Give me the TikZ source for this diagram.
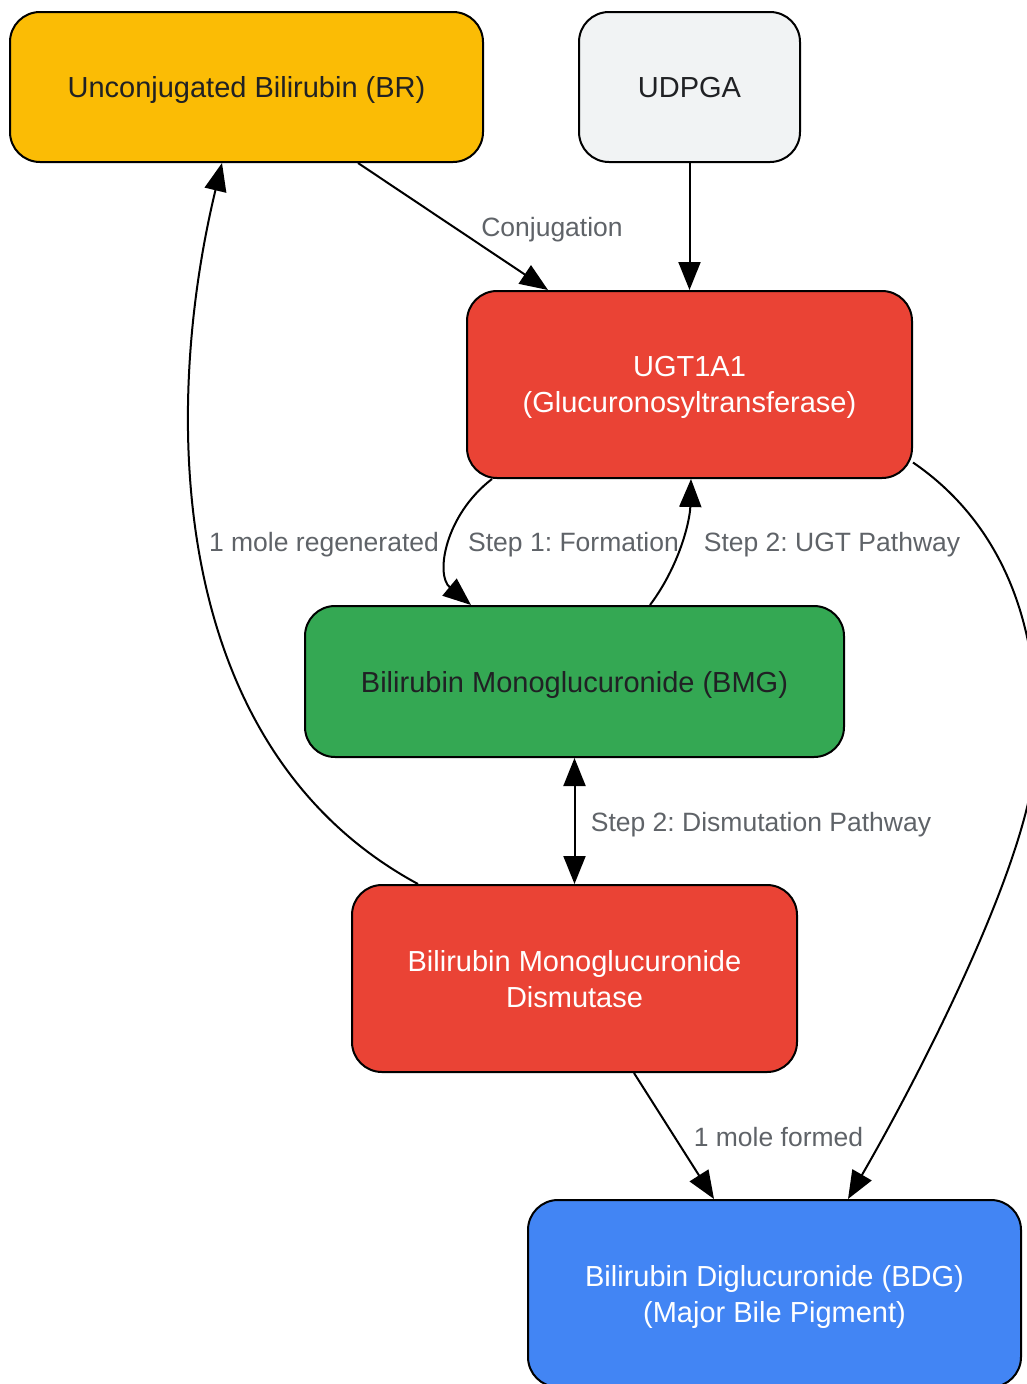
\documentclass[tikz,border=0pt]{standalone}
\usepackage{fontspec}
\setmainfont{Liberation Sans}
\frenchspacing
\usetikzlibrary{arrows.meta}
\definecolor{gyellow}{HTML}{FBBC05}
\definecolor{ggrey}{HTML}{F1F3F4}
\definecolor{gred}{HTML}{EA4335}
\definecolor{ggreen}{HTML}{34A853}
\definecolor{gblue}{HTML}{4285F4}
\definecolor{ink}{HTML}{202124}
\definecolor{lblgrey}{HTML}{5F6368}
\tikzset{
  box/.style={draw=black, line width=2pt, rounded corners=30pt, inner sep=0pt, align=center, font=\fontsize{29}{36}\selectfont, text depth=0pt},
  edge/.style={line width=2pt, -{Triangle[length=28pt,width=22pt]}},
  lbl/.style={text=lblgrey, font=\fontsize{26.5}{32}\selectfont, inner sep=0pt, text height=19pt, text depth=0pt},
}

\begin{document}
\begin{tikzpicture}[x=1pt,y=-1pt]
		%%%%% START %%%%%
		\useasboundingbox (0,0) rectangle (1027,1384);
		
		\node[box, fill=gyellow, text=ink, minimum width=473pt, minimum height=150pt] (br) at (246.5,87) {Unconjugated Bilirubin (BR)};
		\node[box, fill=ggrey, text=ink, minimum width=221pt, minimum height=150pt] (udpga) at (689.5,87) {UDPGA};
		\node[box, fill=gred, text=white, minimum width=445pt, minimum height=187pt] (ugt) at (689.5,384.5) {UGT1A1\\(Glucuronosyltransferase)};
		\node[box, fill=ggreen, text=ink, minimum width=539pt, minimum height=151pt] (bmg) at (574.5,681.5) {Bilirubin Monoglucuronide (BMG)};
		\node[box, fill=gred, text=white, minimum width=445pt, minimum height=187pt] (dis) at (574.5,978.5) {Bilirubin Monoglucuronide\\Dismutase};
		\node[box, fill=gblue, text=white, minimum width=493pt, minimum height=187pt] (bdg) at (774.5,1293.5) {Bilirubin Diglucuronide (BDG)\\(Major Bile Pigment)};
		
		\draw[edge] ([xshift=111.5pt]br.south) -- ([xshift=-141.5pt]ugt.north) node[lbl] at (552,227) {Conjugation};
		\draw[edge] (udpga.south) -- (ugt.north);
		
		\draw[edge] ([xshift=-197.5pt]ugt.south) .. controls (445,515) and (435,575) .. ([xshift=-103.5pt]bmg.north) node[lbl] at (573.5,542) {Step 1: Formation};
		\draw[edge] ([xshift=75.5pt]bmg.north) .. controls (680,565) and (690,520) .. ([xshift=1.5pt]ugt.south) node[lbl] at (832,542) {Step 2: UGT Pathway};
		\draw[edge] ([yshift=-78pt]ugt.east) .. controls (990,515) and (1045,610) .. (1035,760) .. controls (1028,865) and (917,1080) .. ([xshift=73.5pt]bdg.north);
		
		\draw[edge, {Triangle[length=28pt,width=22pt]}-{Triangle[length=28pt,width=22pt]}] (bmg.south) -- (dis.north) node[lbl] at (761,822) {Step 2: Dismutation Pathway};
		
		\draw[edge] ([xshift=-156.5pt]dis.north) .. controls (170,750) and (160,420) .. ([xshift=-24.5pt]br.south) node[lbl] at (324,542) {1 mole regenerated};
		\draw[edge] ([xshift=59.5pt]dis.south) -- ([xshift=-60.5pt]bdg.north) node[lbl] at (778.5,1137) {1 mole formed};
		
		%%%%% END %%%%%
\end{tikzpicture}
\end{document}
